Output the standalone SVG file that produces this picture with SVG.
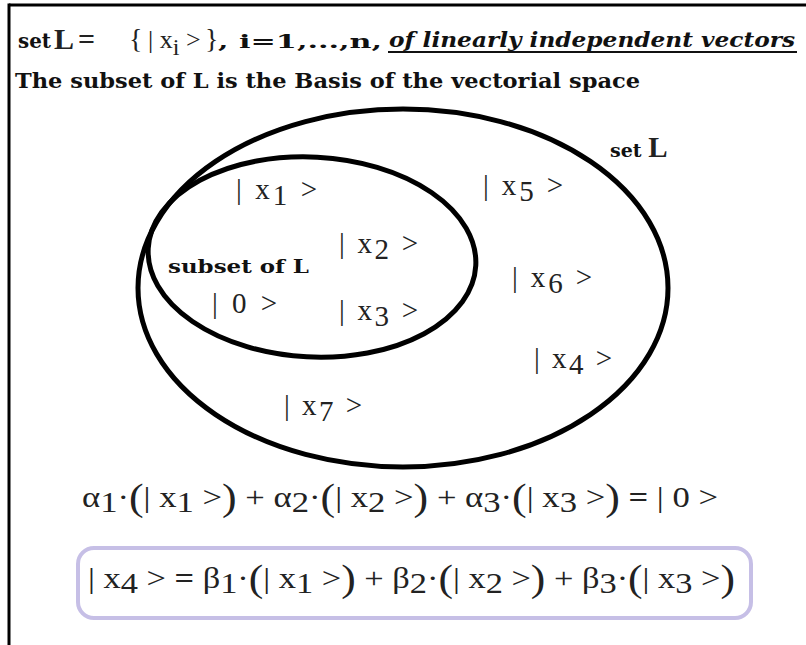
<svg xmlns="http://www.w3.org/2000/svg" width="806" height="645" viewBox="0 0 806 645">
<style>
.hb{font-family:"DejaVu Serif","Liberation Serif",serif;font-weight:bold;fill:#111}
.m{font-family:"Liberation Serif","Times New Roman",serif;fill:#222}
.lbl{font-family:"Liberation Serif","Times New Roman",serif;font-size:29px;fill:#222}
.ell{fill:none;stroke:#000;stroke-width:5}
</style>
<rect width="806" height="645" fill="#fff"/>
<g id="frame" stroke="#000" stroke-width="3" fill="none">
<line x1="9" y1="5" x2="806" y2="5"/>
<line x1="9" y1="3.5" x2="9" y2="645"/>
</g>
<g id="header">
<text class="hb" x="18" y="48" font-size="20" textLength="33" lengthAdjust="spacingAndGlyphs">set</text>
<text class="m" x="54" y="49" font-size="30" font-weight="bold" fill="#111">L</text>
<text class="m" x="78" y="49" font-size="30" font-weight="bold" fill="#111">=</text>
<text class="m" x="129" y="48" font-size="28">{</text>
<text class="m" x="148" y="48" font-size="26">| x<tspan font-size="24" dy="7">i</tspan><tspan dy="-7"> &gt;</tspan></text>
<text class="m" x="205" y="48" font-size="28">}</text>
<text class="hb" x="218" y="48" font-size="19" textLength="164" lengthAdjust="spacingAndGlyphs">, i=1,...,n,</text>
<text class="hb" x="389" y="47" font-size="20" font-style="italic" textLength="406" lengthAdjust="spacingAndGlyphs">of linearly independent vectors</text>
<line x1="388" y1="52" x2="797" y2="52" stroke="#111" stroke-width="2"/>
<text class="hb" x="15" y="88" font-size="20" textLength="625" lengthAdjust="spacingAndGlyphs">The subset of L is the Basis of the vectorial space</text>
</g>
<g id="setL">
<ellipse class="ell" cx="403" cy="288" rx="265" ry="179"/>
<text class="hb" x="610" y="157" font-size="19">set <tspan class="m" font-size="29" font-weight="bold">L</tspan></text>
</g>
<g id="subsetL">
<ellipse class="ell" cx="312" cy="257" rx="164" ry="100" transform="rotate(3 312 257)"/>
<text class="hb" x="168" y="273" font-size="18" textLength="141" lengthAdjust="spacingAndGlyphs">subset of L</text>
</g>
<g id="vectors">
<text class="lbl" x="236" y="199" textLength="81" lengthAdjust="spacing">| x<tspan dy="6">1</tspan><tspan dy="-6"> &gt;</tspan></text>
<text class="lbl" x="483" y="195" textLength="80" lengthAdjust="spacing">| x<tspan dy="6">5</tspan><tspan dy="-6"> &gt;</tspan></text>
<text class="lbl" x="339" y="253" textLength="79" lengthAdjust="spacing">| x<tspan dy="6">2</tspan><tspan dy="-6"> &gt;</tspan></text>
<text class="lbl" x="512" y="287" textLength="80" lengthAdjust="spacing">| x<tspan dy="6">6</tspan><tspan dy="-6"> &gt;</tspan></text>
<text class="lbl" x="212" y="313" textLength="65" lengthAdjust="spacing">| 0 &gt;</text>
<text class="lbl" x="339" y="320" textLength="79" lengthAdjust="spacing">| x<tspan dy="6">3</tspan><tspan dy="-6"> &gt;</tspan></text>
<text class="lbl" x="534" y="368" textLength="78" lengthAdjust="spacing">| x<tspan dy="6">4</tspan><tspan dy="-6"> &gt;</tspan></text>
<text class="lbl" x="284" y="415" textLength="78" lengthAdjust="spacing">| x<tspan dy="6">7</tspan><tspan dy="-6"> &gt;</tspan></text>
</g>
<g id="equation1">
<text class="m" x="82" y="507" font-size="30" textLength="636" lengthAdjust="spacingAndGlyphs">α<tspan dy="5">1</tspan><tspan dy="-5">·</tspan><tspan font-size="38" dy="3">(</tspan><tspan dy="-3">| x</tspan><tspan dy="5">1</tspan><tspan dy="-5"> &gt;</tspan><tspan font-size="38" dy="3">)</tspan><tspan dy="-3"> + α</tspan><tspan dy="5">2</tspan><tspan dy="-5">·</tspan><tspan font-size="38" dy="3">(</tspan><tspan dy="-3">| x</tspan><tspan dy="5">2</tspan><tspan dy="-5"> &gt;</tspan><tspan font-size="38" dy="3">)</tspan><tspan dy="-3"> + α</tspan><tspan dy="5">3</tspan><tspan dy="-5">·</tspan><tspan font-size="38" dy="3">(</tspan><tspan dy="-3">| x</tspan><tspan dy="5">3</tspan><tspan dy="-5"> &gt;</tspan><tspan font-size="38" dy="3">)</tspan><tspan dy="-3" font-weight="bold"> = </tspan>| 0 &gt;</text>
</g>
<g id="equation2">
<rect x="78" y="548" width="673" height="70" rx="16" fill="none" stroke="#c6bfe6" stroke-width="4"/>
<text class="m" x="88" y="588" font-size="30" textLength="647" lengthAdjust="spacingAndGlyphs">| x<tspan dy="5">4</tspan><tspan dy="-5"> &gt; </tspan><tspan font-weight="bold">=</tspan> β<tspan dy="5">1</tspan><tspan dy="-5">·</tspan><tspan font-size="38" dy="3">(</tspan><tspan dy="-3">| x</tspan><tspan dy="5">1</tspan><tspan dy="-5"> &gt;</tspan><tspan font-size="38" dy="3">)</tspan><tspan dy="-3"> + β</tspan><tspan dy="5">2</tspan><tspan dy="-5">·</tspan><tspan font-size="38" dy="3">(</tspan><tspan dy="-3">| x</tspan><tspan dy="5">2</tspan><tspan dy="-5"> &gt;</tspan><tspan font-size="38" dy="3">)</tspan><tspan dy="-3"> + β</tspan><tspan dy="5">3</tspan><tspan dy="-5">·</tspan><tspan font-size="38" dy="3">(</tspan><tspan dy="-3">| x</tspan><tspan dy="5">3</tspan><tspan dy="-5"> &gt;</tspan><tspan font-size="38" dy="3">)</tspan></text>
</g>
</svg>
